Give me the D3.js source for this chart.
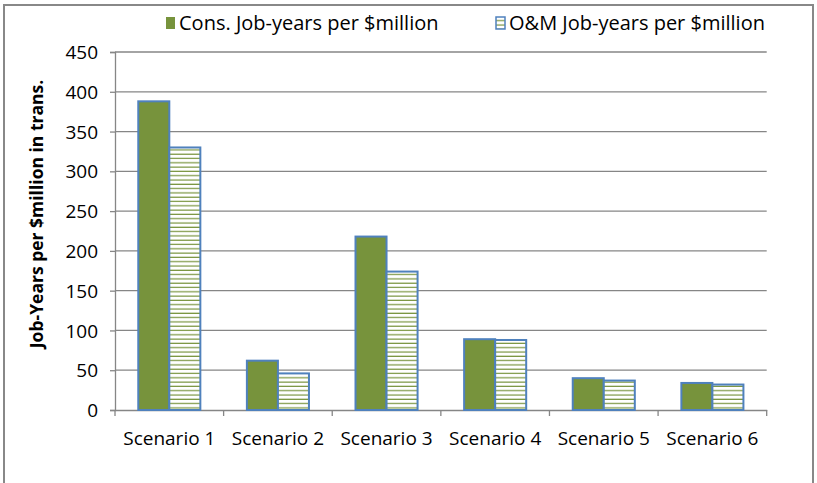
<!DOCTYPE html>
<html>
<head>
<meta charset="utf-8">
<script src="https://cdn.jsdelivr.net/npm/d3@7"></script>
<style>
  html, body { margin: 0; padding: 0; background: #fff; }
  svg { display: block; }
  text { font-family: "Open Sans", sans-serif; fill: #000; }
</style>
</head>
<body>
<svg id="chart" width="817" height="483"></svg>
<script>
const categories = ["Scenario 1", "Scenario 2", "Scenario 3", "Scenario 4", "Scenario 5", "Scenario 6"];
const seriesNames = ["Cons. Job-years per $million", "O&M Job-years per $million"];
const consValues = [388, 62, 218, 89, 40, 34];
const omValues = [330, 46, 174, 88, 37, 32];
const yTicks = [0, 50, 100, 150, 200, 250, 300, 350, 400, 450];
const yTitle = "Job-Years per $million in trans.";

const width = 817, height = 483;
const margin = { top: 52, right: 50, bottom: 73, left: 115 };
const svg = d3.select("#chart");

const green = "#77933C", blue = "#4F81BD", grid = "#868686";

// striped fill for the O&M series
const defs = svg.append("defs");
const pat = defs.append("pattern")
  .attr("id", "hstripe").attr("patternUnits", "userSpaceOnUse")
  .attr("width", 8).attr("height", 4.3);
pat.append("rect").attr("width", 8).attr("height", 4.3).attr("fill", "#fff");
pat.append("rect").attr("y", 3.1).attr("width", 8).attr("height", 1.2).attr("fill", green);

// outer frame
svg.append("path")
  .attr("d", `M4,${height + 2} V5 H813 V${height + 2}`)
  .attr("fill", "none").attr("stroke", "#888").attr("stroke-width", 2);

const x = d3.scaleBand().domain(categories).range([margin.left, width - margin.right - 0.3]);
const y = d3.scaleLinear().domain([0, 450]).range([height - margin.bottom, margin.top]);
const inner = d3.scaleBand().domain([0, 1]).range([0, x.bandwidth()]).paddingOuter(0.75).paddingInner(0);

// gridlines
svg.append("g").selectAll("line").data(yTicks.filter(d => d > 0)).join("line")
  .attr("x1", margin.left).attr("x2", x.range()[1])
  .attr("y1", d => y(d)).attr("y2", d => y(d))
  .attr("stroke", grid).attr("stroke-width", 1.3);

// y axis
const yAxis = svg.append("g").attr("transform", `translate(${margin.left},0)`)
  .call(d3.axisLeft(y).tickValues(yTicks).tickSize(5).tickPadding(12));
yAxis.select(".domain").attr("stroke", grid).attr("stroke-width", 1.3);
yAxis.selectAll(".tick line").attr("stroke", grid).attr("stroke-width", 1.3);
yAxis.selectAll(".tick text").attr("font-size", 19).attr("font-family", "Open Sans, sans-serif").attr("dy", "0.35em");

// x axis
const xAxis = svg.append("g").attr("transform", `translate(0,${y(0)})`)
  .call(d3.axisBottom(x).tickSize(0).tickPadding(22));
xAxis.select(".domain").attr("stroke", grid).attr("stroke-width", 1.3);
xAxis.selectAll(".tick text").attr("font-size", 19).attr("font-family", "Open Sans, sans-serif");
svg.append("g").selectAll("line").data(d3.range(categories.length + 1)).join("line")
  .attr("x1", i => margin.left + i * x.step()).attr("x2", i => margin.left + i * x.step())
  .attr("y1", y(0)).attr("y2", y(0) + 6)
  .attr("stroke", grid).attr("stroke-width", 1.3);

// bars
const groups = svg.append("g").selectAll("g").data(categories).join("g")
  .attr("transform", d => `translate(${x(d)},0)`);
groups.append("rect")
  .attr("x", inner(0)).attr("width", inner.bandwidth())
  .attr("y", (d, i) => y(consValues[i])).attr("height", (d, i) => y(0) - y(consValues[i]))
  .attr("fill", green).attr("stroke", blue).attr("stroke-width", 2);
groups.append("rect")
  .attr("x", inner(1)).attr("width", inner.bandwidth())
  .attr("y", (d, i) => y(omValues[i])).attr("height", (d, i) => y(0) - y(omValues[i]))
  .attr("fill", "url(#hstripe)").attr("stroke", blue).attr("stroke-width", 2);

// y axis title
svg.append("text")
  .attr("transform", `translate(43,214) rotate(-90)`)
  .attr("text-anchor", "middle").attr("font-weight", "bold").attr("font-size", 17.5)
  .attr("font-family", "Open Sans, sans-serif")
  .text(yTitle);

// legend
const legend = [
  { name: seriesNames[0], x: 166, fill: green },
  { name: seriesNames[1], x: 496, fill: "url(#hstripe)" }
];
const lg = svg.append("g").selectAll("g").data(legend).join("g")
  .attr("transform", d => `translate(${d.x},17)`);
lg.append("rect").attr("width", 9).attr("height", 12)
  .attr("fill", d => d.fill).attr("stroke", (d, i) => i === 1 ? blue : "none").attr("stroke-width", 1.5);
lg.append("text").attr("x", 13).attr("y", 6).attr("dy", "0.35em")
  .attr("font-size", 20).attr("font-family", "Open Sans, sans-serif")
  .text(d => d.name);
</script>
</body>
</html>
